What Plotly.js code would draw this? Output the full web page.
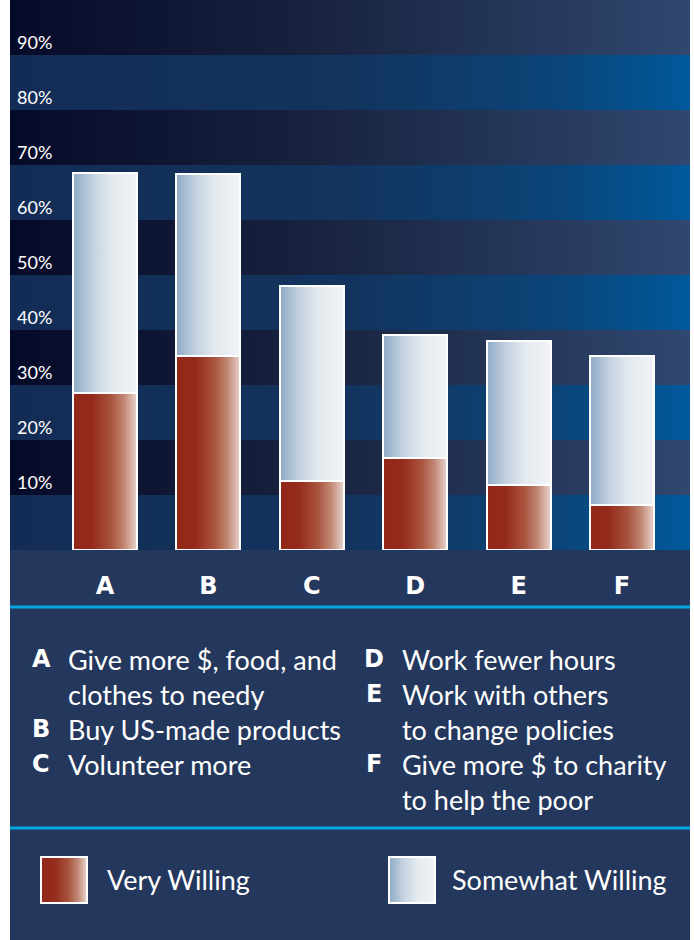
<!DOCTYPE html>
<html>
<head>
<meta charset="utf-8">
<script src="https://cdn.plot.ly/plotly-3.0.1.min.js"></script>
<style>
  html, body { margin: 0; padding: 0; background: #ffffff; }
  #chart { width: 694px; height: 940px; }
</style>
</head>
<body>
<div id="chart"></div>
<script>
// ---------- data ----------
const categories = ['A', 'B', 'C', 'D', 'E', 'F'];
const veryWilling = [28.6, 35.2, 12.5, 16.7, 11.8, 8.2];
const somewhatWilling = [39.9, 33.1, 35.5, 22.4, 26.2, 27.1];
const seriesNames = ['Very Willing', 'Somewhat Willing'];
const yTickVals = [10, 20, 30, 40, 50, 60, 70, 80, 90];
const yTickText = ['10%', '20%', '30%', '40%', '50%', '60%', '70%', '80%', '90%'];
const bandEdges = [0, 10, 20, 30, 40, 50, 60, 70, 80, 90, 100];
const leftKey = [
  { letter: 'A', lines: ['Give more $, food, and', 'clothes to needy'] },
  { letter: 'B', lines: ['Buy US-made products'] },
  { letter: 'C', lines: ['Volunteer more'] }
];
const rightKey = [
  { letter: 'D', lines: ['Work fewer hours'] },
  { letter: 'E', lines: ['Work with others', 'to change policies'] },
  { letter: 'F', lines: ['Give more $ to charity', 'to help the poor'] }
];

// ---------- styling ----------
const W = 694, H = 940;
const M = { l: 10, r: 4, t: 0, b: 390 };
const plotW = W - M.l - M.r, plotH = H - M.t - M.b;
const px2x = px => (px - M.l) / plotW;
const py2y = py => (M.t + plotH - py) / plotH;
const xRange = [-0.919, 5.658];
const yRange = [0, 100];
const RED = 'rgb(146, 39, 24)';
const LIGHT = 'rgb(142, 170, 198)';
const NAVY = '#24375C';
const CYAN = '#00A5E2';
const FONT = 'Lato, "Open Sans", sans-serif';
const BOLD = '"DejaVu Sans", Verdana, sans-serif';

const xIdx = categories.map((_, i) => i);
const traces = [];

// background bands (gradient fills) on the base subplot
const darkScale = [[0, '#060A29'], [0.45, '#18233F'], [1, '#30476F']];
const blueScale = [[0, '#132C55'], [0.5, '#12345E'], [0.8, '#0B4478'], [1, '#00599B']];
for (let i = 0; i < bandEdges.length - 1; i++) {
  const lo = bandEdges[i], hi = bandEdges[i + 1];
  traces.push({
    type: 'scatter', mode: 'lines', xaxis: 'x', yaxis: 'y',
    x: [xRange[0], xRange[1], xRange[1], xRange[0], xRange[0]],
    y: [lo, lo, hi, hi, lo],
    fill: 'toself',
    fillcolor: i % 2 === 0 ? '#12305A' : '#10183A',
    fillgradient: { type: 'horizontal', colorscale: i % 2 === 0 ? blueScale : darkScale },
    line: { width: 0 },
    hoverinfo: 'skip', showlegend: false
  });
}

// bars on the overlaying subplot so they sit above the bands
traces.push({
  type: 'bar', name: seriesNames[0], x: xIdx, y: veryWilling, xaxis: 'x2', yaxis: 'y2',
  width: 0.62,
  marker: { color: RED, line: { color: '#ffffff', width: 2 } },
  showlegend: false, hoverinfo: 'skip'
});
traces.push({
  type: 'bar', name: seriesNames[1], x: xIdx, y: somewhatWilling, xaxis: 'x2', yaxis: 'y2',
  width: 0.62,
  marker: { color: LIGHT, line: { color: '#ffffff', width: 2 } },
  showlegend: false, hoverinfo: 'skip'
});

const shapes = [
  { type: 'rect', xref: 'paper', yref: 'paper', x0: 0, x1: 1, y0: py2y(H + 2), y1: 0,
    fillcolor: NAVY, line: { width: 0 }, layer: 'below' },
  { type: 'line', xref: 'paper', yref: 'paper', x0: 0, x1: 1, y0: py2y(607), y1: py2y(607),
    line: { color: CYAN, width: 3 } },
  { type: 'line', xref: 'paper', yref: 'paper', x0: 0, x1: 1, y0: py2y(828), y1: py2y(828),
    line: { color: CYAN, width: 3 } },
  { type: 'rect', xref: 'paper', yref: 'paper', x0: px2x(41), x1: px2x(87), y0: py2y(903), y1: py2y(857),
    fillcolor: RED, line: { color: '#ffffff', width: 2 } },
  { type: 'rect', xref: 'paper', yref: 'paper', x0: px2x(389), x1: px2x(435), y0: py2y(903), y1: py2y(857),
    fillcolor: LIGHT, line: { color: '#ffffff', width: 2 } }
];

const annotations = [];
function addKey(col, letterX, textX) {
  let row = 0;
  col.forEach(item => {
    annotations.push({
      xref: 'paper', yref: 'paper', x: px2x(letterX), y: py2y(659 + 35 * row),
      xanchor: 'center', yanchor: 'middle', showarrow: false, text: '<b>' + item.letter + '</b>',
      font: { family: BOLD, size: 24, color: '#ffffff' }
    });
    item.lines.forEach(line => {
      annotations.push({
        xref: 'paper', yref: 'paper', x: px2x(textX), y: py2y(659 + 35 * row),
        xanchor: 'left', yanchor: 'middle', showarrow: false, text: line,
        font: { family: FONT, size: 27, color: '#ffffff' }
      });
      row++;
    });
  });
}
addKey(leftKey, 41, 66);
addKey(rightKey, 374, 400);

annotations.push({
  xref: 'paper', yref: 'paper', x: px2x(105), y: py2y(879), xanchor: 'left', yanchor: 'middle',
  showarrow: false, text: seriesNames[0], font: { family: FONT, size: 27, color: '#ffffff' }
});
annotations.push({
  xref: 'paper', yref: 'paper', x: px2x(450), y: py2y(879), xanchor: 'left', yanchor: 'middle',
  showarrow: false, text: seriesNames[1], font: { family: FONT, size: 27, color: '#ffffff' }
});

const layout = {
  width: W, height: H,
  margin: M,
  paper_bgcolor: '#ffffff',
  plot_bgcolor: '#10183A',
  barmode: 'stack',
  showlegend: false,
  hovermode: false,
  xaxis: {
    type: 'linear', range: xRange, fixedrange: true,
    tickvals: xIdx, ticktext: categories.map(c => '<b>' + c + '</b>'),
    showgrid: false, zeroline: false, showline: false, ticks: '',
    ticklabelstandoff: 19,
    tickfont: { family: BOLD, size: 24, color: '#ffffff' }
  },
  yaxis: {
    range: yRange, fixedrange: true,
    tickvals: yTickVals, ticktext: yTickText,
    ticklabelposition: 'inside top',
    showgrid: false, zeroline: false, showline: false, ticks: '',
    ticklabelstandoff: 4,
    tickfont: { family: FONT, size: 18, color: '#ffffff' }
  },
  xaxis2: {
    type: 'linear', range: xRange, overlaying: 'x', fixedrange: true,
    showgrid: false, zeroline: false, showline: false, showticklabels: false, ticks: ''
  },
  yaxis2: {
    range: yRange, overlaying: 'y', fixedrange: true,
    showgrid: false, zeroline: false, showline: false, showticklabels: false, ticks: ''
  },
  shapes: shapes,
  annotations: annotations
};

function applyGradients(gd) {
  const NS = 'http://www.w3.org/2000/svg';
  const svg = gd.querySelector('svg.main-svg');
  let defs = svg.querySelector('defs');
  if (!defs) { defs = document.createElementNS(NS, 'defs'); svg.insertBefore(defs, svg.firstChild); }
  function grad(id, stops) {
    if (svg.querySelector('#' + id)) return;
    const g = document.createElementNS(NS, 'linearGradient');
    g.setAttribute('id', id);
    g.setAttribute('x1', '0'); g.setAttribute('x2', '1');
    g.setAttribute('y1', '0'); g.setAttribute('y2', '0');
    stops.forEach(s => {
      const st = document.createElementNS(NS, 'stop');
      st.setAttribute('offset', s[0]);
      st.setAttribute('stop-color', s[1]);
      g.appendChild(st);
    });
    defs.appendChild(g);
  }
  grad('gradRed', [[0, '#922718'], [0.3, '#952B1C'], [0.6, '#A9553F'], [0.8, '#C28875'], [1, '#E8D6CF']]);
  grad('gradLight', [[0, '#8EAAC6'], [0.3, '#C3D1DF'], [0.6, '#E3E9EF'], [1, '#F2F4F6']]);
  gd.querySelectorAll('svg path').forEach(p => {
    const f = p.style.fill;
    if (f === RED) p.style.fill = 'url(#gradRed)';
    else if (f === LIGHT) p.style.fill = 'url(#gradLight)';
  });
}

Plotly.newPlot('chart', traces, layout, { staticPlot: true, displayModeBar: false })
  .then(gd => applyGradients(gd));
</script>
</body>
</html>
